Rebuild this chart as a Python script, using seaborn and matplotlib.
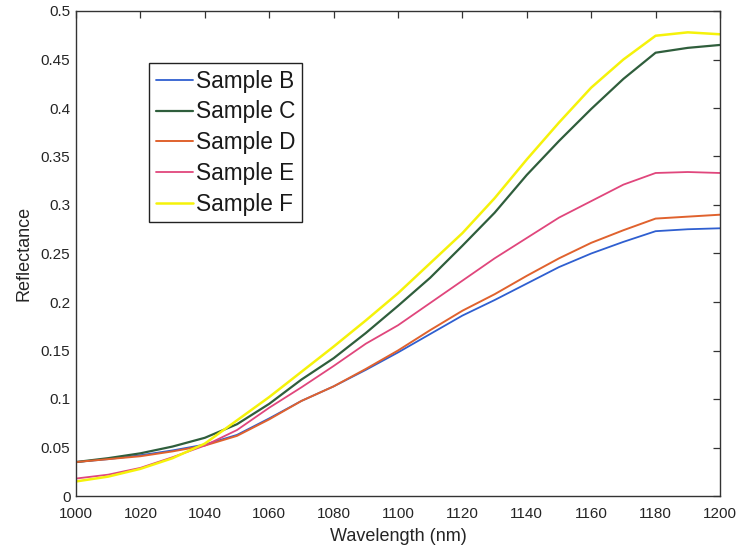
import matplotlib as mpl

mpl.use('Agg')
import matplotlib.pyplot as plt
import seaborn as sns
import pandas as pd
from matplotlib.ticker import FormatStrFormatter, MultipleLocator

# wavelength grid (nm)
wavelength = [1000, 1010, 1020, 1030, 1040, 1050, 1060, 1070, 1080, 1090, 1100,
              1110, 1120, 1130, 1140, 1150, 1160, 1170, 1180, 1190, 1200]

# reflectance
sample_b = [0.035, 0.038, 0.042, 0.047, 0.053, 0.063, 0.080, 0.098, 0.113, 0.130, 0.148,
            0.167, 0.186, 0.202, 0.219, 0.236, 0.250, 0.262, 0.273, 0.275, 0.276]
sample_c = [0.035, 0.039, 0.044, 0.051, 0.060, 0.074, 0.095, 0.120, 0.142, 0.168, 0.196,
            0.225, 0.258, 0.292, 0.331, 0.366, 0.399, 0.430, 0.457, 0.462, 0.465]
sample_d = [0.035, 0.038, 0.041, 0.046, 0.052, 0.062, 0.079, 0.098, 0.113, 0.131, 0.150,
            0.171, 0.191, 0.208, 0.227, 0.245, 0.261, 0.274, 0.286, 0.288, 0.290]
sample_e = [0.018, 0.022, 0.029, 0.040, 0.052, 0.068, 0.091, 0.112, 0.134, 0.157, 0.176,
            0.199, 0.222, 0.245, 0.266, 0.287, 0.304, 0.321, 0.333, 0.334, 0.333]
sample_f = [0.015, 0.020, 0.028, 0.039, 0.054, 0.078, 0.102, 0.128, 0.154, 0.181, 0.209,
            0.240, 0.271, 0.307, 0.347, 0.385, 0.421, 0.450, 0.4745, 0.478, 0.476]

labels = ['Sample B', 'Sample C', 'Sample D', 'Sample E', 'Sample F']
series = [sample_b, sample_c, sample_d, sample_e, sample_f]
colors = ['#2f5fd0', '#2f5e3c', '#e0622e', '#e0467c', '#f5f20a']
widths = [1.3, 1.6, 1.4, 1.3, 1.8]

sns.set_style('white')
plt.rcParams['font.family'] = ['Liberation Sans', 'DejaVu Sans']
text_c = '#252525'

fig = plt.figure(figsize=(7.37, 5.54), dpi=100)
ax = fig.add_axes([76 / 737, 1 - 496 / 554, 644 / 737, 485 / 554])

for lab, vals, c, lw in zip(labels, series, colors, widths):
    df = pd.DataFrame({'Wavelength': wavelength, 'Reflectance': vals})
    sns.lineplot(data=df, x='Wavelength', y='Reflectance', color=c, lw=lw,
                 label=lab, ax=ax)

ax.set_xlim(1000, 1200)
ax.set_ylim(0, 0.5)
ax.xaxis.set_major_locator(MultipleLocator(20))
ax.yaxis.set_major_locator(MultipleLocator(0.05))
ax.xaxis.set_major_formatter(FormatStrFormatter('%d'))
ax.yaxis.set_major_formatter(mpl.ticker.FuncFormatter(lambda v, p: '%g' % round(v, 3)))
ax.tick_params(direction='in', length=5, width=0.9, top=True, right=True,
               labelsize=11, colors='#333333', labelcolor=text_c)
ax.tick_params(axis='x', pad=8)
ax.tick_params(axis='y', pad=4)
for s in ax.spines.values():
    s.set_color('#333333')
    s.set_linewidth(1.0)

ax.set_xlabel('Wavelength (nm)', fontsize=13, color=text_c, labelpad=5)
ax.set_ylabel('Reflectance', fontsize=13, color=text_c, labelpad=6)

leg = ax.legend(loc='upper left', bbox_to_anchor=(149 / 737, 1 - 63 / 554),
                bbox_transform=fig.transFigure, fontsize=16.3, frameon=True,
                fancybox=False, edgecolor='#222222', framealpha=1,
                handlelength=1.65, handletextpad=0.12, labelspacing=0.34,
                borderpad=0.3, borderaxespad=0)
leg.get_frame().set_linewidth(1.0)
for t in leg.get_texts():
    t.set_color('#1a1a1a')

fig.savefig('out.png', dpi=100)
